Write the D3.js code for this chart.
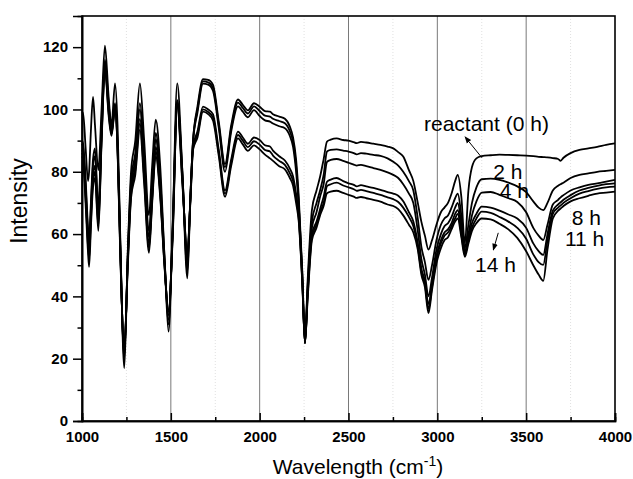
<!DOCTYPE html>
<html>
<head>
<meta charset="utf-8">
<script src="https://cdn.jsdelivr.net/npm/d3@7"></script>
<style>
  body { margin: 0; background: #fff; }
  svg { display: block; font-family: "Liberation Sans", Arial, sans-serif; }
  .line { fill: none; stroke: #000; stroke-width: 1.8; stroke-linejoin: round; }
</style>
</head>
<body>
<svg id="chart" width="633" height="479"></svg>
<script>
// --- data ---
const wavenumber = [
  1000, 1006, 1020, 1034, 1040, 1050, 1062, 1073, 1092, 1110,
  1129, 1150, 1166, 1186, 1200, 1215, 1238, 1258, 1276, 1300,
  1326, 1350, 1377, 1395, 1415, 1440, 1465, 1487, 1510, 1536,
  1565, 1593, 1610, 1625, 1650, 1681, 1710, 1737, 1770, 1805,
  1840, 1878, 1905, 1934, 1968, 2000, 2030, 2058, 2075, 2110,
  2142, 2170, 2188, 2205, 2220, 2240, 2255, 2270, 2294, 2320,
  2340, 2360, 2379, 2400, 2433, 2470, 2500, 2530, 2546, 2570,
  2600, 2640, 2680, 2720, 2752, 2780, 2808, 2840, 2865, 2890,
  2910, 2930, 2950, 2970, 2995, 3020, 3040, 3060, 3080, 3100,
  3115, 3135, 3155, 3175, 3195, 3220, 3250, 3300, 3350, 3400,
  3450, 3500, 3540, 3570, 3596, 3620, 3650, 3680, 3694, 3710,
  3750, 3800, 3850, 3900, 3950, 4000
];

const reactant = [
  98.8, 99, 88, 77, 80, 93, 104, 95, 80.5, 100,
  120.5, 104, 95, 108.4, 95, 60, 17, 55, 80, 90,
  108.4, 90, 66, 82, 96.7, 82, 52, 28.7, 62, 108.4,
  80, 45.8, 72, 90, 101, 109.7, 109.5, 108, 96, 82.5,
  95, 103.2, 101.5, 99.7, 102, 100.9, 99.5, 99.3, 98.5, 97.7,
  97, 94.5, 91, 84, 72, 48, 26, 45, 67.7, 74,
  78.4, 84, 89.7, 90.3, 90.7, 90.2, 90, 89.5, 89.2, 89.6,
  89.4, 89, 88.6, 88.1, 87.5, 86.3, 84.9, 80.5, 77, 70,
  64, 59.5, 55, 58, 63, 67, 68.5, 70, 73, 77,
  79, 72, 57, 74, 81.5, 84.3, 85, 85.3, 85.5, 85.4,
  85.3, 85.2, 85, 84.8, 84.7, 84.6, 84.4, 84.1, 83.5, 84.5,
  86, 87, 87.5, 88, 88.6, 89.1
];

const h2 = [
  90, 89, 78, 62, 58, 70, 84, 87.5, 68, 95,
  116, 102, 94, 102, 90, 58, 20, 54, 77, 86,
  102, 85, 61, 76, 92.5, 78, 52, 31, 62, 103,
  80, 48, 72, 90, 100, 109, 108.7, 107, 95, 81.5,
  94, 102.2, 100.5, 98.7, 101, 99.5, 98, 97.7, 97, 96.3,
  95.6, 93, 89.5, 82, 70, 47, 25.5, 43, 64, 70,
  74, 79, 86.5, 87, 87.2, 86.8, 86.5, 86, 85.6, 86,
  85.8, 85.4, 85.1, 84.3, 83.2, 82, 80, 77, 74, 65,
  56, 51, 45.3, 50, 58, 63, 65, 66, 68.5, 71.5,
  73, 66, 55.5, 63, 70, 75, 77.6, 77.8, 77.4, 76.5,
  75.3, 73.5, 70.5, 68.5, 67.7, 70, 74, 75.5, 76, 76.5,
  78, 79, 79.5, 80, 80.3, 80.6
];

const h4 = [
  89, 88, 76, 60, 56, 68, 82, 85, 66, 93,
  115, 101, 93, 101.5, 89, 57, 21, 53, 75, 84,
  100, 83, 59, 74, 90.5, 76, 51, 32.5, 61, 102.5,
  79, 50, 72, 89.5, 99, 108.3, 108, 106, 94, 80,
  93, 101, 99.3, 97.5, 99.8, 97.9, 96.5, 96.1, 95.5, 94.6,
  94, 91.5, 88, 80, 69, 46, 25, 42, 62, 67,
  72, 76, 83.2, 83.8, 84.1, 83.5, 82.9, 82.3, 82, 82.2,
  81.8, 81.2, 80.6, 79.8, 79, 78, 76, 73, 70, 61,
  52, 47, 40, 46, 55, 60, 62.5, 63.5, 65.5, 68.5,
  70, 63, 54.5, 60, 66, 70.5, 73.3, 73.5, 72.6, 71.5,
  70.3, 67, 62, 59.5, 58.1, 63, 69.5, 71, 71.8, 72.5,
  74, 75, 75.8, 76.3, 76.8, 77.4
];

const h8 = [
  87, 86, 74, 58, 54, 66, 79, 82, 64, 91,
  114, 100, 92.5, 101, 88, 56, 22, 52, 73.5, 82,
  97, 80, 57, 72, 88, 74, 50, 34, 60, 102,
  78, 52, 71, 88, 93, 100.9, 100, 98.5, 87, 74,
  84, 92.9, 91, 89, 91, 90.2, 88.5, 88.1, 86.8, 85,
  83.6, 81, 78.5, 73, 66, 45, 25, 41, 60, 64,
  68, 72, 76.8, 77.5, 78, 77, 76.3, 75.8, 75.3, 75.7,
  75.3, 74.8, 74.2, 73.5, 73, 72.3, 70.5, 67, 64, 57,
  49, 45, 37.5, 44, 53, 58, 60.5, 61.5, 63.5, 66.5,
  67.7, 61, 54, 59, 63.5, 66.5, 68.8, 68.5, 67.5, 66.3,
  65, 62, 57, 54.5, 53.3, 60, 67.5, 69.5, 70.2, 71,
  72.5, 74, 74.8, 75.5, 76, 76.3
];

const h11 = [
  86, 85, 72, 56, 52, 64, 77, 80, 62.5, 90,
  113.5, 99, 92, 100.5, 87.5, 55, 23, 51, 72.5, 80.5,
  95.5, 78, 55.5, 71, 86.5, 73, 49.5, 35, 59, 101.5,
  77, 53.5, 71, 87.5, 92, 100, 99.2, 97.5, 86, 73,
  83, 91.8, 90, 87.9, 89.8, 88.7, 87, 86.5, 85.2, 83.5,
  82.2, 79.5, 77, 71.5, 65, 44.5, 25, 40, 59, 63,
  67, 70, 75.4, 76, 76.5, 75.6, 75, 74.4, 73.9, 74.2,
  73.8, 73.2, 72.6, 71.8, 71.2, 70.3, 68.5, 65.5, 62.5, 56,
  48, 44, 36, 43, 52, 57, 59.5, 60.5, 62.5, 65,
  66.5, 60, 53.3, 58, 62, 65, 67.2, 66.8, 65.5, 64,
  62, 58.5, 53.5, 51, 50.1, 58, 66.5, 68.5, 69.2, 70,
  71.5, 73, 73.8, 74.5, 75, 75.2
];

const h14 = [
  85, 84, 70, 54, 49.5, 62, 75, 78, 61, 89,
  113, 98, 91.5, 100, 87, 54, 24, 50, 71.5, 79,
  93.5, 76, 54, 70, 85, 72, 49, 35.6, 58, 101,
  76, 54.8, 70, 87, 91, 99.3, 98.5, 96.5, 85, 72,
  82, 90.7, 88.8, 86.7, 88.5, 87.2, 85.5, 84.3, 83.5, 81.8,
  80.8, 78, 75.5, 70, 64, 44, 25, 39, 58, 62,
  66, 69, 73.1, 73.6, 73.9, 73.2, 72.6, 72, 71.6, 71.9,
  71.5, 71, 70.4, 69.5, 69, 68, 66, 63, 60.5, 55,
  47, 43, 34.6, 42, 50.5, 55.5, 58, 59, 61.5, 64,
  65, 59, 52.7, 57, 61, 63.5, 65, 64.7, 63.3, 61.5,
  58.8, 54.5, 50, 47, 45, 55, 65, 67.5, 68.2, 69,
  70.5, 71.5, 72.3, 73, 73.3, 73.6
];

const seriesList = [reactant, h2, h4, h8, h11, h14];

const xTicks = [1000, 1500, 2000, 2500, 3000, 3500, 4000];
const xMinorTicks = [1250, 1750, 2250, 2750, 3250, 3750];
const yTicks = [0, 20, 40, 60, 80, 100, 120];
const yMinorTicks = [10, 30, 50, 70, 90, 110, 130];

// annotation labels, placed in data units
const labels = [
  { text: "reactant (0 h)", w: 2925, v: 93.1 },
  { text: "2 h", w: 3315, v: 77.7 },
  { text: "4 h", w: 3352, v: 71.5 },
  { text: "8 h", w: 3756, v: 62.9 },
  { text: "11 h", w: 3718, v: 56.2 },
  { text: "14 h", w: 3212, v: 47.9 }
];
const arrows = [
  { from: [3251, 84.5], to: [3156, 91.2] },
  { from: [3343, 60.4], to: [3315, 54.9] }
];

// --- chart ---
const svg = d3.select("#chart");
const margin = { top: 16, right: 18, bottom: 58, left: 82 };
const width = 633 - margin.left - margin.right;
const height = 479 - margin.top - margin.bottom;

const x = d3.scaleLinear().domain([1000, 4000]).range([0, width]);
const y = d3.scaleLinear().domain([0, 130]).range([height, 0]);

const defs = svg.append("defs");
defs.append("marker")
  .attr("id", "arrow")
  .attr("viewBox", "0 0 10 10")
  .attr("refX", 9).attr("refY", 5)
  .attr("markerWidth", 7).attr("markerHeight", 7)
  .attr("markerUnits", "userSpaceOnUse")
  .attr("orient", "auto")
  .append("path").attr("d", "M0,1 L10,5 L0,9 Z").attr("fill", "#000");

const g = svg.append("g").attr("transform", `translate(${margin.left},${margin.top})`);

// grid lines
g.append("g").selectAll("line").data(xMinorTicks).join("line")
  .attr("x1", d => x(d)).attr("x2", d => x(d))
  .attr("y1", 0).attr("y2", height)
  .attr("stroke", "#d8d8d8").attr("stroke-width", 0.8)
  .attr("stroke-dasharray", "1,2");
g.append("g").selectAll("line").data(xTicks.slice(1, -1)).join("line")
  .attr("x1", d => x(d)).attr("x2", d => x(d))
  .attr("y1", 0).attr("y2", height)
  .attr("stroke", "#6a6a6a").attr("stroke-width", 0.9);

// spectra
const line = d3.line()
  .x((d, i) => x(wavenumber[i]))
  .y(d => y(d))
  .curve(d3.curveMonotoneX);

g.selectAll(".line").data(seriesList).join("path")
  .attr("class", "line")
  .attr("d", d => line(d));

// frame
g.append("rect")
  .attr("width", width).attr("height", height)
  .attr("fill", "none").attr("stroke", "#000").attr("stroke-width", 1.6);

// axes
const xAxis = g.append("g")
  .attr("transform", `translate(0,${height})`)
  .call(d3.axisBottom(x).tickValues(xTicks).tickSize(-8).tickPadding(10).tickFormat(d3.format("d")));
g.append("g")
  .attr("transform", `translate(0,${height})`)
  .call(d3.axisBottom(x).tickValues(xMinorTicks).tickSize(-4).tickFormat(""));

const yAxis = g.append("g")
  .call(d3.axisLeft(y).tickValues(yTicks).tickSize(9).tickPadding(5).tickFormat(d3.format("d")));
g.append("g")
  .call(d3.axisLeft(y).tickValues(yMinorTicks.filter(v => v < 130)).tickSize(4.5).tickFormat(""));

g.selectAll(".domain").attr("stroke", "#000").attr("stroke-width", 1.6);
g.selectAll(".tick line").attr("stroke", "#000").attr("stroke-width", 1.5);
g.selectAll(".tick text")
  .attr("font-family", "Liberation Sans, Arial, sans-serif")
  .attr("font-size", 15).attr("font-weight", "bold").attr("fill", "#000");

// axis titles
const xTitle = svg.append("text")
  .attr("x", 358).attr("y", 474)
  .attr("text-anchor", "middle")
  .attr("font-size", 21);
xTitle.append("tspan").text("Wavelength (cm");
xTitle.append("tspan").attr("font-size", 14).attr("dy", -8).text("-1");
xTitle.append("tspan").attr("dy", 8).text(")");

svg.append("text")
  .attr("transform", "translate(27,201) rotate(-90)")
  .attr("text-anchor", "middle")
  .attr("font-size", 23)
  .text("Intensity");

// annotations
g.selectAll(".lbl").data(labels).join("text")
  .attr("class", "lbl")
  .attr("x", d => x(d.w)).attr("y", d => y(d.v))
  .attr("font-size", 21)
  .text(d => d.text);

g.selectAll(".arr").data(arrows).join("line")
  .attr("class", "arr")
  .attr("x1", d => x(d.from[0])).attr("y1", d => y(d.from[1]))
  .attr("x2", d => x(d.to[0])).attr("y2", d => y(d.to[1]))
  .attr("stroke", "#000").attr("stroke-width", 1)
  .attr("marker-end", "url(#arrow)");
</script>
</body>
</html>
